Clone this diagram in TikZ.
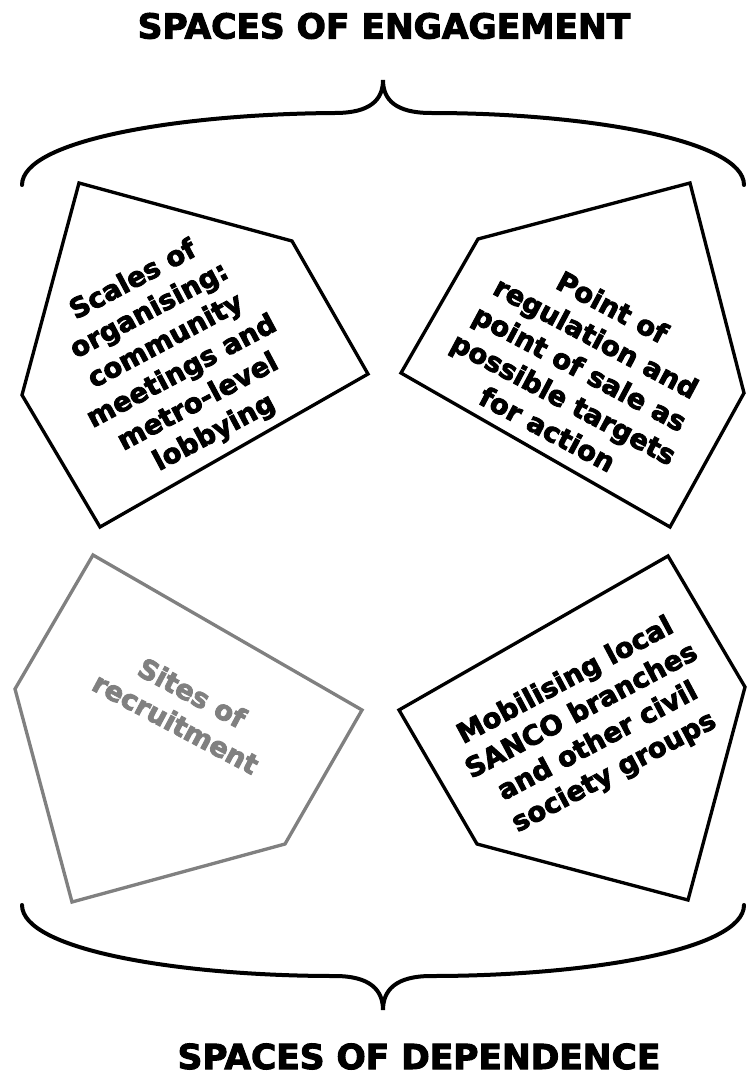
\documentclass[tikz,border=0pt]{standalone}
\usepackage{fontspec}
\usepackage{xcolor}
\usepackage{tikz}
\newfontfamily\heavyfont{DejaVu Sans}[BoldFeatures={FakeBold=3}]
\definecolor{recruitgray}{RGB}{128,128,128}

\begin{document}
\begin{tikzpicture}[
        x=0.75pt, y=-0.75pt,
        headline/.style={anchor=base, inner sep=0pt, font=\heavyfont\bfseries\fontsize{25.8}{30}\selectfont},
        panetext/.style={align=center, inner sep=0pt, font=\heavyfont\bfseries\fontsize{20.5}{25.9}\selectfont},
        pane/.style={draw, line width=2.5pt},
        bracket/.style={draw, line width=3pt, line cap=round}
    ]
        \useasboundingbox (0,0) rectangle (746,1077);
        % titles
        \node[headline] (engage) at (384,38.5) {SPACES OF ENGAGEMENT};
        \node[headline] (depend) at (419,1069) {SPACES OF DEPENDENCE};
        % braces
        \path[bracket] (22,185) .. controls (22,140) and (180,114) .. (335,113)
            .. controls (370,113) and (383,100) .. (383,80)
            .. controls (383,100) and (396,113) .. (431,113)
            .. controls (586,113) and (744,140) .. (744,185);
        \path[bracket] (22,905) .. controls (22,950) and (180,976) .. (335,976)
            .. controls (370,976) and (383,990) .. (383,1010)
            .. controls (383,990) and (396,976) .. (431,976)
            .. controls (586,976) and (744,950) .. (744,905);
        % panes
        \path[pane] (79,183) -- (292,241) -- (368,374) -- (100,527) -- (22,395) -- cycle;
        \path[pane] (478,239) -- (690,183) -- (744,393) -- (670,527) -- (401,373) -- cycle;
        \path[pane, draw=recruitgray] (93,555) -- (362,710) -- (285,844) -- (72,902) -- (15,689) -- cycle;
        \path[pane] (668,556) -- (745,687) -- (688,900) -- (477,844) -- (399,710) -- cycle;
        % pane texts
        \node[panetext, rotate=28] (scales) at (174,357)
            {Scales of\\organising:\\community\\meetings and\\metro-level\\lobbying};
        \node[panetext, rotate=-28] (regulation) at (580,368)
            {Point of\\regulation and\\point of sale as\\possible targets\\for action};
        \node[panetext, rotate=-28, text=recruitgray] (sites) at (184,708)
            {Sites of\\recruitment};
        \node[panetext, rotate=28] (mobilise) at (590,727)
            {Mobilising local\\SANCO branches\\and other civil\\society groups};
    \end{tikzpicture}
\end{document}
